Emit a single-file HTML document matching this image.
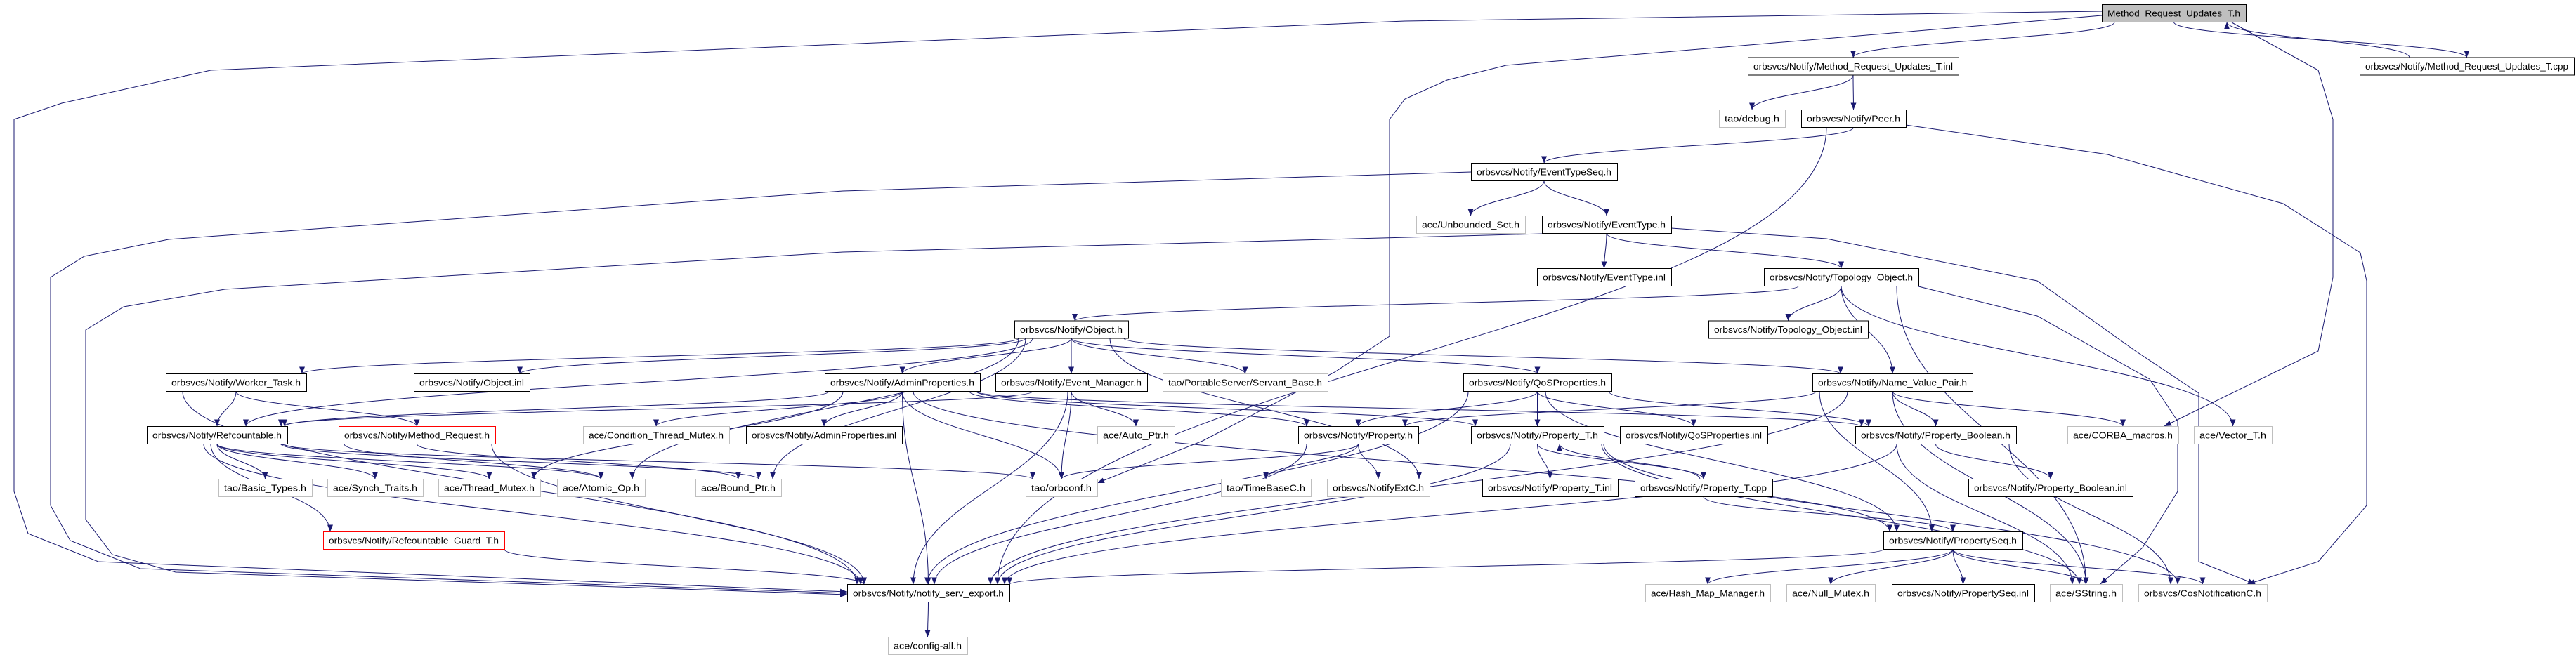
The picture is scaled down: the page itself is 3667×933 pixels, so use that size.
<!DOCTYPE html>
<html><head><meta charset="utf-8"><style>
html,body{margin:0;padding:0;background:#fff;width:3667px;height:933px;overflow:hidden}
svg{display:block}
text{font-family:"Liberation Sans",sans-serif;font-size:13px;fill:#000}
</style></head><body>
<svg id="g" width="3667" height="933" viewBox="0 0 3667 933" xmlns="http://www.w3.org/2000/svg">
<defs><marker id="a" viewBox="0 0 10 10" refX="10" refY="5" markerWidth="10" markerHeight="10" markerUnits="userSpaceOnUse" orient="auto"><path d="M0,1 L10,5 L0,9 z" fill="#191970"/></marker></defs>
<g id="E" fill="none" stroke="#191970" stroke-width="1"></g>
<g id="N"></g>
</svg>
<script>
var R=[19,94.5,169,245,320,395,469.5,545,620,695,770,845,920];
var N={
top:["Method_Request_Updates_T.h",2992,3197,0,"f"],
inl:["orbsvcs/Notify/Method_Request_Updates_T.inl",2488,2788,1,"b"],
cpp:["orbsvcs/Notify/Method_Request_Updates_T.cpp",3359,3664,1,"b"],
dbg:["tao/debug.h",2447,2541,2,"g"],
peer:["orbsvcs/Notify/Peer.h",2564,2713,2,"b"],
ets:["orbsvcs/Notify/EventTypeSeq.h",2094,2302,3,"b"],
ubs:["ace/Unbounded_Set.h",2016,2171,4,"g"],
et:["orbsvcs/Notify/EventType.h",2195,2379,4,"b"],
eti:["orbsvcs/Notify/EventType.inl",2188,2379,5,"b"],
topo:["orbsvcs/Notify/Topology_Object.h",2511,2731,5,"b"],
obj:["orbsvcs/Notify/Object.h",1444,1606,6,"b"],
topoi:["orbsvcs/Notify/Topology_Object.inl",2432,2659,6,"b"],
wt:["orbsvcs/Notify/Worker_Task.h",236,436,7,"b"],
obji:["orbsvcs/Notify/Object.inl",589,754,7,"b"],
ap:["orbsvcs/Notify/AdminProperties.h",1174,1395,7,"b"],
em:["orbsvcs/Notify/Event_Manager.h",1417,1633,7,"b"],
sb:["tao/PortableServer/Servant_Base.h",1655,1890,7,"g"],
qos:["orbsvcs/Notify/QoSProperties.h",2083,2294,7,"b"],
nvp:["orbsvcs/Notify/Name_Value_Pair.h",2580,2808,7,"b"],
rc:["orbsvcs/Notify/Refcountable.h",209,409,8,"b"],
mr:["orbsvcs/Notify/Method_Request.h",482,705,8,"r"],
ctm:["ace/Condition_Thread_Mutex.h",830,1038,8,"g"],
api:["orbsvcs/Notify/AdminProperties.inl",1062,1284,8,"b"],
autop:["ace/Auto_Ptr.h",1562,1672,8,"g"],
prop:["orbsvcs/Notify/Property.h",1848,2019,8,"b"],
pt:["orbsvcs/Notify/Property_T.h",2094,2283,8,"b"],
qosi:["orbsvcs/Notify/QoSProperties.inl",2306,2516,8,"b"],
pb:["orbsvcs/Notify/Property_Boolean.h",2641,2870,8,"b"],
cm:["ace/CORBA_macros.h",2943,3101,8,"g"],
vt:["ace/Vector_T.h",3123,3234,8,"g"],
bt:["tao/Basic_Types.h",311,444,9,"g"],
st:["ace/Synch_Traits.h",466,602,9,"g"],
tm:["ace/Thread_Mutex.h",624,769,9,"g"],
ao:["ace/Atomic_Op.h",793,918,9,"g"],
bp:["ace/Bound_Ptr.h",990,1112,9,"g"],
oc:["tao/orbconf.h",1460,1562,9,"g"],
tb:["tao/TimeBaseC.h",1738,1866,9,"g"],
nx:["orbsvcs/NotifyExtC.h",1889,2035,9,"g"],
pti:["orbsvcs/Notify/Property_T.inl",2110,2303,9,"b"],
ptc:["orbsvcs/Notify/Property_T.cpp",2327,2523,9,"b"],
pbi:["orbsvcs/Notify/Property_Boolean.inl",2802,3036,9,"b"],
rg:["orbsvcs/Notify/Refcountable_Guard_T.h",460,718,10,"r"],
ps:["orbsvcs/Notify/PropertySeq.h",2681,2879,10,"b"],
nse:["orbsvcs/Notify/notify_serv_export.h",1206,1437,11,"b"],
hmm:["ace/Hash_Map_Manager.h",2342,2520,11,"g"],
nm:["ace/Null_Mutex.h",2543,2669,11,"g"],
psi:["orbsvcs/Notify/PropertySeq.inl",2693,2896,11,"b"],
ss:["ace/SString.h",2918,3021,11,"g"],
cos:["orbsvcs/CosNotificationC.h",3044,3227,11,"g"],
cfg:["ace/config-all.h",1264,1377,12,"g"]
};
var NS="http://www.w3.org/2000/svg";
function el(t,a,p){var e=document.createElementNS(NS,t);for(var k in a)e.setAttribute(k,a[k]);p.appendChild(e);return e;}
var E=document.getElementById("E"),G=document.getElementById("N");
function cx(n){return (N[n][1]+N[n][2])/2}
function cy(n){return R[N[n][3]]}
function edge(a,b,fx,tx){
 var x1=fx!=null?fx:cx(a),y1=cy(a)+12.5,x2=tx!=null?tx:cx(b),y2=cy(b)-12.5;
 if(N[a][3]>N[b][3]){y1=cy(a)-12.5;y2=cy(b)+12.5;}
 var dy=(y2-y1)*0.45;
 el("path",{d:"M"+x1+","+y1+" C"+x1+","+(y1+dy)+" "+x2+","+(y2-dy)+" "+x2+","+y2,"marker-end":"url(#a)"},E);
}
function poly(pts){el("path",{d:"M"+pts.map(function(p){return p.join(",")}).join(" L"),"marker-end":"url(#a)"},E);}
var L=[
["top","inl",3010],["top","cpp"],["cpp","top",3430,3170],["inl","dbg"],["inl","peer"],
["peer","ets"],["peer","nse",2600,1420],["ets","ubs"],["ets","et"],["et","eti"],["et","topo"],
["topo","obj",2560,1530],["topo","topoi"],["topo","nvp"],["topo","vt"],["topo","ss",2700],
["obj","wt",1450,430],["obj","obji",1460,740],["obj","rc",1470,350],["obj","ap"],["obj","em"],["obj","sb"],["obj","qos"],["obj","nvp",1600,2620],["obj","nx",1580,2020],["obj","ao",1450,900],["obj","bp",1460,1100],
["wt","rc"],["wt","mr"],["wt","nse",260,1220],
["rc","bt"],["rc","st"],["rc","tm"],["rc","ao"],["rc","bp",400,1080],["rc","rg",300,470],["rc","nse",290,1225],["rc","oc",405,1470],
["mr","bp"],["mr","ao",490],["mr","nse",700,1230],["rg","nse",718,1230],
["ap","rc",1180,405],["ap","ctm"],["ap","api"],["ap","oc"],["ap","nse"],["ap","prop",1380,1860],["ap","pt",1390,2100],["ap","pb",1390,2650],["ap","ps",1300,2690],["ap","tm",1200,760],
["em","autop"],["em","oc"],["em","nse",1520,1300],["em","rc",1470,400],
["qos","prop"],["qos","pt"],["qos","qosi"],["qos","pb",2290,2660],["qos","nse",2090,1320],["qos","ps",2200,2700],
["nvp","prop",2585,2000],["nvp","pb"],["nvp","cm"],["nvp","ss"],["nvp","nse",2630,1410],["nvp","ps",2590,2750],
["prop","oc"],["prop","tb"],["prop","nx"],["prop","nse",1860,1330],
["pt","pti"],["pt","ptc"],["ptc","pt",2420,2220],["pt","nse",2150,1420],["pt","ss",2280,2960],["pt","cos",2283,3100],
["ptc","ps"],["pb","pbi"],["pb","nse",2700,1430],["pb","cos",2860,3090],["pb","ss",2700,2950],
["ps","nse",2681,1437],["ps","hmm"],["ps","nm"],["ps","psi"],["ps","ss"],["ps","cos"],
["nse","cfg"]
];
L.forEach(function(e){edge(e[0],e[1],e[2],e[3]);});
poly([[2992,16],[2000,30],[300,100],[88,147],[20,170],[20,700],[40,760],[140,800],[1206,843]]);
poly([[2992,22],[2144,93],[2060,114],[2000,141],[1978,170],[1978,479],[1900,530],[1712,628],[1562,688]]);
poly([[3177,32],[3300,100],[3321,170],[3321,395],[3300,500],[3081,607]]);
poly([[2713,178],[3000,220],[3250,290],[3360,360],[3369,400],[3369,720],[3300,800],[3200,832]]);
poly([[2094,245],[1200,272],[240,341],[120,365],[72,395],[72,720],[100,770],[200,810],[1206,845]]);
poly([[2195,333],[1200,359],[320,412],[176,437],[122,470],[122,740],[160,790],[250,815],[1206,847]]);
poly([[2379,325],[2600,340],[2900,400],[3040,500],[3130,560],[3130,800],[3210,832]]);
poly([[2731,408],[2900,450],[3060,540],[3100,600],[3100,700],[3050,780],[2990,832]]);
for(var k in N){var n=N[k],w=n[2]-n[1],y=R[n[3]]-12.5;
 var st=n[4]=="g"?"#bfbfbf":n[4]=="r"?"#ff0000":"#000";
 el("rect",{x:n[1]+.5,y:y,width:w,height:25,fill:n[4]=="f"?"#bfbfbf":"#fff",stroke:st,"stroke-width":1},G);
 var t=el("text",{x:n[1]+8,y:R[n[3]]+4.5,textLength:w-16,lengthAdjust:"spacingAndGlyphs"},G);t.textContent=n[0];}
</script>
</body></html>
